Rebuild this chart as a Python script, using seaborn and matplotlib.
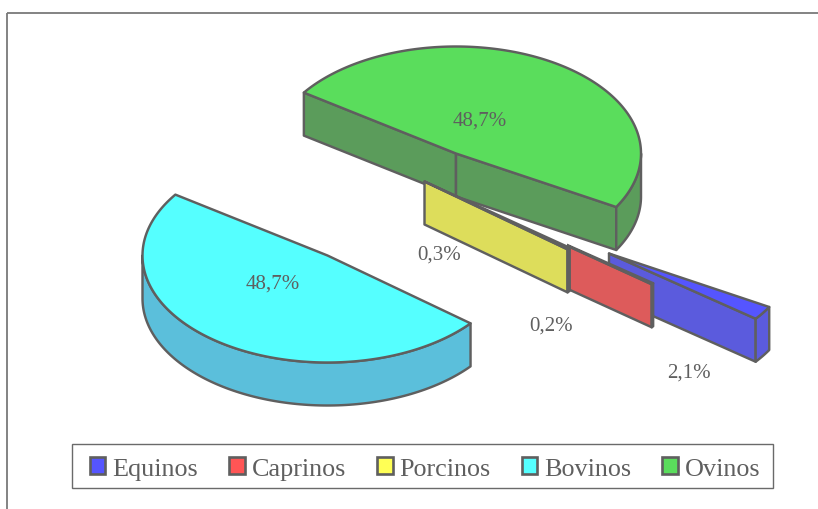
import numpy as np
import matplotlib
matplotlib.use("Agg")
import matplotlib.pyplot as plt
from matplotlib.patches import Patch, Rectangle
import seaborn as sns

# ---- data ----
categories = ["Equinos", "Caprinos", "Porcinos", "Bovinos", "Ovinos"]
shares = [2.1, 0.2, 0.3, 48.7, 48.7]
share_labels = ["2,1%", "0,2%", "0,3%", "48,7%", "48,7%"]

# ---- styles ----
top_colors = ["#5555FF", "#FF5555", "#FFFF55", "#55FFFF", "#5ADD5C"]
side_colors = ["#5B5BDD", "#DD5B5B", "#DDDD5B", "#5BBFDB", "#5B9C5B"]
EDGE = "#5F5F5F"
TEXT = "#5F5F5F"
LW = 1.75

# ---- layout (pixel space of the 818x510 figure) ----
RX, RY, DEPTH = 185.0, 107.0, 43.0
START_ANGLE = 30.0
Y_SHIFT = 1.5
slice_centres = {"Equinos": (609, 253), "Caprinos": (506.5, 217.5), "Porcinos": (424.5, 181),
                 "Bovinos": (327.5, 255), "Ovinos": (456, 153)}
label_pos = {"Equinos": (689, 373), "Caprinos": (551, 326), "Porcinos": (439, 255),
             "Bovinos": (273, 284), "Ovinos": (479.5, 121)}
hidden_left_of = {"Caprinos": 567}
draw_order = ["Ovinos", "Equinos", "Caprinos", "Porcinos", "Bovinos"]

sns.set_style("white")
plt.rcParams["font.family"] = ["Liberation Serif", "DejaVu Serif"]
palette = sns.color_palette(top_colors)
side_palette = sns.color_palette(side_colors)

fig = plt.figure(figsize=(8.18, 5.10), dpi=100, facecolor="white")
ax = fig.add_axes([0, 0, 1, 1])
ax.set_xlim(0, 818)
ax.set_ylim(510, 0)
ax.axis("off")

ax.add_patch(Rectangle((7, 13.5), 900, 600, fill=False, ec="#7A7A7A", lw=1.3, zorder=0))

# angular extent of each slice, derived from its share
sweep = np.array(shares, dtype=float) / np.sum(shares) * 360.0
ends = START_ANGLE + np.cumsum(sweep)
starts = ends - sweep
extent = {c: (s, e) for c, s, e in zip(categories, starts, ends)}


def rim(cx, cy, t):
    r = np.radians(t)
    return cx + RX * np.cos(r), cy + RY * np.sin(r)


def draw_wall(cx, cy, t, color, z):
    x, y = rim(cx, cy, t)
    return ax.fill([cx, x, x, cx], [cy, y, y + DEPTH, cy + DEPTH], fc=color, ec=EDGE,
                   lw=LW, joinstyle="round", zorder=z)


z = 1
for name in draw_order:
    i = categories.index(name)
    t1, t2 = extent[name]
    cx, cy = slice_centres[name]
    cy = cy + Y_SHIFT
    drawn = []
    # radial walls facing the viewer
    if np.cos(np.radians(t1)) < 0:
        drawn += draw_wall(cx, cy, t1, side_palette[i], z)
    if np.cos(np.radians(t2)) > 0:
        drawn += draw_wall(cx, cy, t2, side_palette[i], z)
    # outer rim wall: the parts lying on the front half of the ellipse
    for k in (0, 1, 2):
        lo, hi = max(t1, 360 * k), min(t2, 360 * k + 180)
        if hi > lo:
            tt = np.linspace(lo, hi, 120)
            x, y = rim(cx, cy, tt)
            drawn += ax.fill(np.r_[x, x[::-1]], np.r_[y, y[::-1] + DEPTH], fc=side_palette[i],
                             ec=EDGE, lw=LW, joinstyle="round", zorder=z)
    # top face
    tt = np.linspace(t1, t2, 240)
    x, y = rim(cx, cy, tt)
    drawn += ax.fill(np.r_[cx, x], np.r_[cy, y], fc=palette[i], ec=EDGE, lw=LW,
                     joinstyle="round", zorder=z)
    if name in hidden_left_of:
        clip = Rectangle((hidden_left_of[name], 0), 400, 510, transform=ax.transData)
        for artist in drawn:
            artist.set_clip_path(clip)
    z += 1

for i, name in enumerate(categories):
    lx, ly = label_pos[name]
    ax.text(lx, ly, share_labels[i], ha="center", va="center", fontsize=15,
            color=TEXT, zorder=20)

ax.add_patch(Rectangle((72, 444.5), 701, 44, fc="white", ec="#6A6A6A", lw=1.0, zorder=29))
handles = [Patch(fc=palette[i], ec=EDGE, lw=1.9, label=c) for i, c in enumerate(categories)]
leg = ax.legend(handles=handles, loc="center", bbox_to_anchor=(425, 469.5),
                bbox_transform=ax.transData, ncol=5, frameon=False,
                fontsize=18.8, labelcolor=TEXT,
                columnspacing=1.19, handlelength=0.6, handleheight=0.6,
                handletextpad=0.26, borderpad=0.42, borderaxespad=0)
leg.set_zorder(30)

fig.savefig("out.png", dpi=100)
